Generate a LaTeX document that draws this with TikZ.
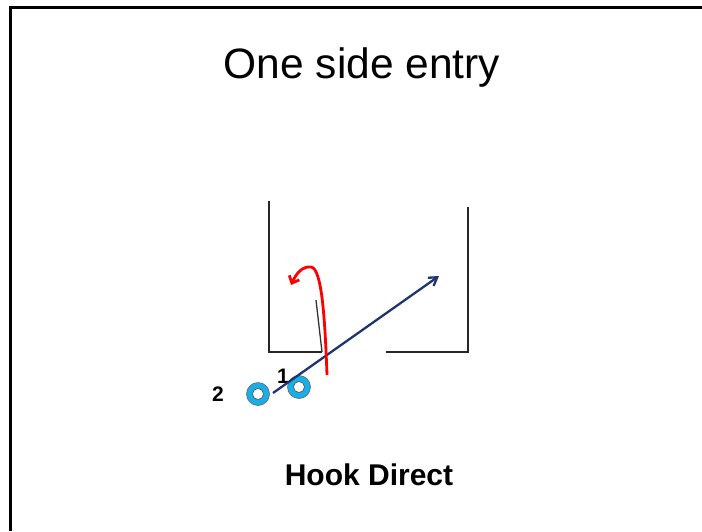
\documentclass[tikz,border=0pt]{standalone}
\usepackage{fontspec}
\setmainfont{Liberation Sans}
\usetikzlibrary{arrows.meta}
\definecolor{navy}{HTML}{1F3570}
\definecolor{ringblue}{HTML}{1AAEE8}
\begin{document}
\begin{tikzpicture}[x=1pt,y=-1pt,
  wall/.style={line width=1.8pt,black!85},
  player/.style={circle,draw=black!60,line width=0.6pt,fill=ringblue,minimum size=23pt,inner sep=0pt},
  hole/.style={circle,draw=black!70,line width=0.6pt,fill=white,minimum size=11pt,inner sep=0pt},
  num/.style={font=\bfseries\fontsize{21}{23}\selectfont,inner sep=0pt}]
\useasboundingbox (0,0) rectangle (702,531);
% frame
\draw[line width=3pt] (10,531) -- (10,7.5) -- (702,7.5);
% title
\node (title) at (362,68) {\fontsize{42.5}{46}\selectfont One side entry};
\node (caption) at (369,475) {\bfseries\fontsize{30}{33}\selectfont Hook Direct};
% walls
\coordinate (lt) at (269,201);
\coordinate (lb) at (269,352);
\coordinate (lr) at (322,352);
\coordinate (rl) at (386,352);
\coordinate (rb) at (468,352);
\coordinate (rt) at (468,207);
\draw[wall] (lt) -- (lb) -- (lr);
\draw[wall] (rl) -- (rb) -- (rt);
\coordinate (ds) at (316,300);
\draw[line width=1.3pt,black!80] (ds) -- (lr);
% players
\node[player] (p2) at (258,394) {};
\node[hole] at (p2) {};
\node[player] (p1) at (299,387) {};
\node[hole] at (p1) {};
\node[num] (n2) at (218,394) {2};
\node[num] (n1) at (283,376) {1};
% blue arrow
\coordinate (bs) at (273,393);
\coordinate (be) at (439,276);
\draw[navy,line width=2.3pt,-{Straight Barb[length=8pt,width=10pt]}] (bs) -- (be);
% red hook
\coordinate (rs) at (327,375);
\coordinate (re) at (291,285);
\draw[red,line width=2.8pt,-{Straight Barb[length=6pt,width=11pt]}] (rs) .. controls (325,320) and (322,268) .. (311,267) .. controls (302,266) and (296,274) .. (re);
\end{tikzpicture}
\end{document}
